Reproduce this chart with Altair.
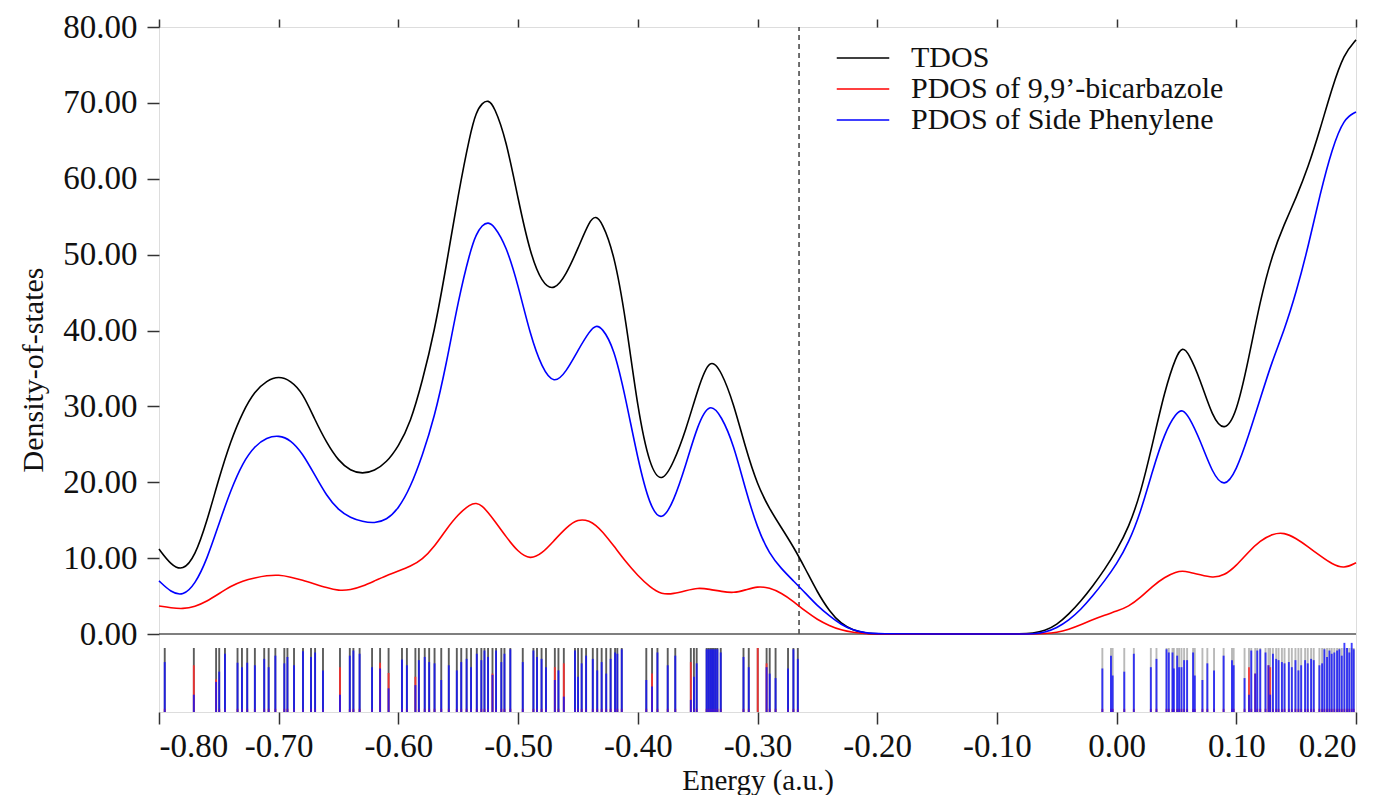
import altair as alt
import pandas as pd

# ---------------- curve data ----------------
energy = [-0.80, -0.79, -0.78, -0.77, -0.76, -0.75, -0.74, -0.73, -0.72, -0.71,
          -0.70, -0.69, -0.68, -0.67, -0.66, -0.65, -0.64, -0.63, -0.62, -0.61,
          -0.60, -0.59, -0.58, -0.57, -0.56, -0.55, -0.54, -0.535, -0.53, -0.525,
          -0.52, -0.51, -0.50, -0.49, -0.48, -0.47, -0.46, -0.45, -0.44, -0.435,
          -0.43, -0.42, -0.41, -0.40, -0.39, -0.38, -0.37, -0.36, -0.35, -0.34,
          -0.33, -0.32, -0.31, -0.30, -0.29, -0.28, -0.27, -0.26, -0.25, -0.24,
          -0.23, -0.22, -0.21, -0.20, -0.15, -0.10, -0.08, -0.07, -0.06, -0.05,
          -0.04, -0.03, -0.02, -0.01, 0.00, 0.01, 0.02, 0.03, 0.04, 0.05,
          0.055, 0.06, 0.07, 0.08, 0.09, 0.10, 0.11, 0.12, 0.13, 0.14,
          0.15, 0.16, 0.17, 0.18, 0.19, 0.20]

tdos = [11.2, 9.1, 8.3, 10.2, 14.8, 20.5, 25.5, 29.3, 32.0, 33.4,
        34.0, 33.4, 31.8, 28.3, 25.2, 22.8, 21.5, 21.1, 21.5, 22.6,
        24.7, 27.8, 33.3, 39.8, 48.5, 58.0, 66.0, 68.8, 70.0, 70.4,
        69.6, 65.2, 57.3, 50.2, 46.2, 45.2, 47.3, 50.8, 54.6, 55.1,
        54.3, 50.3, 41.5, 29.5, 22.0, 19.8, 22.6, 26.8, 32.2, 36.6,
        34.6, 30.4, 24.5, 19.6, 16.5, 14.0, 11.5, 8.6, 5.5, 3.0,
        1.3, 0.5, 0.1, 0.0, 0.0, 0.0, 0.0, 0.1, 0.4, 1.2,
        2.6, 4.3, 6.3, 8.5, 11.0, 14.0, 18.5, 25.0, 32.0, 36.8,
        37.8, 37.1, 33.5, 28.6, 26.6, 29.0, 36.0, 44.0, 50.0, 54.0,
        57.5, 61.5, 66.5, 72.0, 76.5, 78.3]

pdos_bcz = [3.7, 3.45, 3.3, 3.6, 4.3, 5.3, 6.3, 7.0, 7.4, 7.7,
            7.8, 7.5, 7.1, 6.6, 6.1, 5.7, 5.8, 6.3, 7.0, 7.7,
            8.3, 8.9, 9.8, 11.5, 13.8, 15.8, 17.1, 17.3, 16.9, 16.0,
            15.0, 12.8, 10.8, 9.8, 10.6, 12.3, 14.0, 15.2, 14.9, 14.3,
            13.6, 11.6, 9.5, 7.7, 6.2, 5.2, 5.3, 5.7, 6.1, 5.9,
            5.6, 5.4, 5.8, 6.3, 6.1, 5.4, 4.3, 3.0, 1.9, 1.1,
            0.5, 0.2, 0.05, 0.0, 0.0, 0.0, 0.0, 0.0, 0.05, 0.2,
            0.6, 1.2, 1.9, 2.5, 3.0, 3.6, 4.8, 6.3, 7.5, 8.2,
            8.3, 8.2, 7.8, 7.4, 7.7, 9.0, 10.8, 12.3, 13.2, 13.4,
            12.6, 11.5, 10.3, 9.2, 8.6, 9.4]

pdos_ph = [7.0, 5.5, 5.0, 6.5, 9.8, 14.5, 19.0, 22.6, 24.8, 25.9,
           26.2, 25.6, 23.8, 21.0, 18.2, 16.3, 15.3, 14.8, 14.6, 15.0,
           16.5, 19.3, 23.5, 28.5, 35.5, 44.0, 50.5, 52.7, 53.9, 54.3,
           53.8, 51.2, 46.0, 39.5, 35.0, 32.9, 34.5, 37.4, 40.0, 40.7,
           40.4, 37.8, 31.0, 23.0, 16.8, 14.7, 17.5, 22.2, 27.6, 30.6,
           28.7, 25.0, 19.0, 13.9, 10.5, 8.6, 7.0, 5.4, 3.7, 2.4,
           1.2, 0.5, 0.15, 0.0, 0.0, 0.0, 0.0, 0.0, 0.2, 0.8,
           1.8, 3.2, 5.0, 7.0, 9.2, 12.0, 16.0, 21.5, 26.5, 29.2,
           29.6, 28.8, 25.5, 21.2, 19.2, 21.5, 26.0, 31.0, 36.0, 40.0,
           45.0, 51.0, 58.0, 64.0, 68.0, 68.8]

series_names = ["TDOS", "PDOS of 9,9\u2019-bicarbazole", "PDOS of Side Phenylene"]
series_colors = ["#000000", "#ff0000", "#0000ff"]

# ---------------- orbital sticks (composition fractions) ----------------
stick_e = [-0.7952, -0.7709, -0.7523, -0.7497, -0.7449, -0.7344, -0.7307, -0.7263, -0.7199, -0.7121,
           -0.7084, -0.7028, -0.6953, -0.6927, -0.6872, -0.6797, -0.6730, -0.6696, -0.6630, -0.6488,
           -0.6406, -0.6376, -0.6324, -0.6220, -0.6153, -0.6082, -0.5970, -0.5929, -0.5858, -0.5829,
           -0.5780, -0.5743, -0.5698, -0.5642, -0.5579, -0.5512, -0.5475, -0.5430, -0.5393, -0.5345,
           -0.5307, -0.5281, -0.5251, -0.5214, -0.5184, -0.5140, -0.5114, -0.5065, -0.4961, -0.4872,
           -0.4842, -0.4804, -0.4767, -0.4693, -0.4663, -0.4618, -0.4525, -0.4499, -0.4469, -0.4432,
           -0.4376, -0.4339, -0.4302, -0.4264, -0.4227, -0.4190, -0.4171, -0.4134, -0.3929, -0.3881,
           -0.3836, -0.3750, -0.3687, -0.3557, -0.3531, -0.3508, -0.3425, -0.3410, -0.3395, -0.3380,
           -0.3365, -0.3350, -0.3335, -0.3307, -0.3117, -0.3073, -0.2998, -0.2924, -0.2898, -0.2849,
           -0.2745, -0.2700, -0.2663,
           -0.0119, -0.0047, -0.0033, 0.0064, 0.0144, 0.0286, 0.0333, 0.0417, 0.0436, 0.0467,
           0.0478, 0.0506, 0.0522, 0.0542, 0.0564, 0.0589, 0.0639, 0.0653, 0.0717, 0.0758,
           0.0814, 0.0894, 0.0964, 0.0978, 0.1069, 0.1106, 0.1125, 0.1158, 0.1175, 0.1200,
           0.1244, 0.1269, 0.1283, 0.1306, 0.1333, 0.1353, 0.1381, 0.1403, 0.1439, 0.1464,
           0.1494, 0.1519, 0.1542, 0.1575, 0.1597, 0.1625, 0.1647, 0.1694, 0.1717, 0.1736,
           0.1758, 0.1778, 0.1797, 0.1819, 0.1842, 0.1861, 0.1881, 0.1903, 0.1925, 0.1944,
           0.1964, 0.1981]

stick_ph = [0.78, 0.27, 0.47, 0.63, 0.91, 0.77, 0.70, 0.77, 0.73, 0.83,
            0.70, 0.88, 0.76, 0.86, 0.73, 0.95, 0.86, 0.93, 0.65, 0.27,
            0.88, 0.96, 0.91, 0.70, 0.68, 0.37, 0.82, 0.73, 0.42, 0.81,
            0.86, 0.78, 0.76, 0.50, 0.73, 0.65, 0.78, 0.83, 0.70, 0.91,
            0.81, 0.96, 0.86, 0.58, 0.96, 0.78, 0.91, 0.98, 0.78, 0.96,
            0.86, 0.83, 0.70, 0.50, 0.65, 0.24, 0.96, 0.55, 0.76, 0.88,
            0.83, 0.65, 0.78, 0.60, 0.83, 0.93, 0.91, 0.98, 0.50, 0.40,
            0.93, 0.73, 0.88, 0.19, 0.55, 0.76, 0.98, 0.98, 0.98, 0.98,
            0.98, 0.98, 0.98, 0.93, 0.86, 0.70, 0.00, 0.70, 0.60, 0.53,
            0.68, 0.98, 0.83,
            0.68, 0.88, 0.57, 0.63, 0.91, 0.70, 0.83, 0.98, 0.93, 0.93,
            0.68, 0.88, 0.70, 0.70, 0.81, 0.81, 0.93, 0.57, 0.50, 0.76,
            0.65, 0.88, 0.81, 0.73, 0.53, 0.27, 0.96, 0.60, 0.96, 0.98,
            0.93, 0.73, 0.27, 0.91, 0.83, 0.81, 0.78, 0.76, 0.78, 0.70,
            0.81, 0.65, 0.73, 0.81, 0.76, 0.83, 0.81, 0.73, 0.76, 0.98,
            0.86, 0.96, 0.91, 0.93, 0.96, 0.98, 0.88, 1.08, 1.00, 0.93,
            1.08, 0.98]

stick_bcz = [0.05, 0.73, 0.51, 0.05, 0.05, 0.05, 0.05, 0.05, 0.05, 0.05,
             0.05, 0.05, 0.05, 0.05, 0.05, 0.05, 0.05, 0.05, 0.05, 0.70,
             0.05, 0.05, 0.05, 0.05, 0.77, 0.61, 0.05, 0.05, 0.55, 0.05,
             0.05, 0.05, 0.05, 0.05, 0.05, 0.05, 0.05, 0.05, 0.05, 0.05,
             0.05, 0.05, 0.05, 0.60, 0.05, 0.05, 0.05, 0.05, 0.05, 0.05,
             0.05, 0.05, 0.05, 0.70, 0.05, 0.76, 0.05, 0.05, 0.05, 0.05,
             0.05, 0.05, 0.05, 0.05, 0.05, 0.05, 0.05, 0.05, 0.05, 0.60,
             0.05, 0.05, 0.05, 0.78, 0.05, 0.05, 0.05, 0.05, 0.05, 0.05,
             0.05, 0.05, 0.05, 0.05, 0.05, 0.05, 1.00, 0.76, 0.05, 0.05,
             0.05, 0.05, 0.05,
             0.05, 0.05, 0.05, 0.05, 0.05, 0.05, 0.05, 0.05, 0.05, 0.05,
             0.05, 0.05, 0.05, 0.05, 0.05, 0.05, 0.05, 0.05, 0.05, 0.05,
             0.05, 0.05, 0.05, 0.05, 0.05, 0.70, 0.05, 0.60, 0.05, 0.05,
             0.05, 0.73, 0.70, 0.05, 0.05, 0.05, 0.05, 0.05, 0.05, 0.05,
             0.05, 0.05, 0.05, 0.05, 0.05, 0.05, 0.05, 0.05, 0.05, 0.05,
             0.05, 0.05, 0.05, 0.05, 0.05, 0.05, 0.05, 0.05, 0.05, 0.05,
             0.05, 0.05]

homo_energy = -0.2653

x_ticks = [-0.80, -0.70, -0.60, -0.50, -0.40, -0.30, -0.20, -0.10, 0.00, 0.10, 0.20]
y_ticks = [0, 10, 20, 30, 40, 50, 60, 70, 80]

# ---------------- tables ----------------
rows = []
for name, vals in zip(series_names, [tdos, pdos_bcz, pdos_ph]):
    for e, v in zip(energy, vals):
        rows.append({"E": e, "v": v, "series": name})
curve_df = pd.DataFrame(rows)

stick_df = pd.DataFrame({"E": stick_e, "ph": stick_ph, "bcz": stick_bcz})
stick_df["zero"] = 0.0
stick_df["full"] = 1.0
stick_df["occ"] = ["occupied" if e <= homo_energy else "virtual" for e in stick_e]

FONT = "Liberation Serif"
W, H = 1197, 685
LABEL_EXPR = "replace(format(datum.value, '.2f'), '\u2212', '-')"

xscale = alt.Scale(domain=[-0.8, 0.2], nice=False, zero=False)
yscale = alt.Scale(domain=[-10.28, 80], nice=False, zero=False)
sscale = alt.Scale(domain=[0, 10.70], nice=False, zero=False)

ax_bottom = alt.Axis(
    values=x_ticks, labelExpr=LABEL_EXPR, title="Energy (a.u.)", orient="bottom",
    tickSize=12, tickWidth=1.5, tickColor="#333", labelPadding=6,
    labelFont=FONT, labelFontSize=33, labelColor="#111",
    titleFont=FONT, titleFontSize=29, titleFontWeight="normal", titleColor="#111",
    titlePadding=3, domain=False, grid=False)

ax_top = alt.Axis(
    values=x_ticks, orient="top", labels=False, title=None,
    tickSize=8, tickWidth=1.5, tickColor="#333", domain=False, grid=False)

ax_left = alt.Axis(
    values=y_ticks, labelExpr=LABEL_EXPR, title="Density-of-states",
    tickSize=12, tickWidth=1.5, tickColor="#333", labelPadding=10,
    labelFont=FONT, labelFontSize=33, labelColor="#111",
    titleFont=FONT, titleFontSize=30, titleFontWeight="normal", titleColor="#111",
    titlePadding=14, domain=False, grid=False)

curves = alt.Chart(curve_df).mark_line(strokeWidth=1.6, interpolate="basis").encode(
    x=alt.X("E:Q", scale=xscale, axis=ax_bottom),
    y=alt.Y("v:Q", scale=yscale, axis=ax_left),
    color=alt.Color("series:N",
                    scale=alt.Scale(domain=series_names, range=series_colors),
                    legend=alt.Legend(orient="none", legendX=688, legendY=15, title=None,
                                      symbolType="M-1.75,0H1.75", symbolSize=900,
                                      symbolStrokeWidth=1.6,
                                      labelFont=FONT, labelFontSize=30, labelColor="#111",
                                      labelOffset=32, rowPadding=0, labelLimit=600)),
    order=alt.Order("E:Q"),
)

zero_df = pd.DataFrame({"E0": [-0.8], "E1": [0.2], "v": [0.0]})
zero_line = alt.Chart(zero_df).mark_rule(color="#555", strokeWidth=1.5).encode(
    x=alt.X("E0:Q", scale=xscale, axis=ax_bottom), x2="E1:Q",
    y=alt.Y("v:Q", scale=yscale, axis=ax_left))

homo_df = pd.DataFrame({"E": [homo_energy], "v0": [0.0], "v1": [80.0]})
homo_line = alt.Chart(homo_df).mark_rule(color="#333", strokeWidth=1.4, strokeDash=[5, 4]).encode(
    x=alt.X("E:Q", scale=xscale, axis=ax_bottom),
    y=alt.Y("v0:Q", scale=yscale, axis=ax_left), y2="v1:Q")

main = alt.layer(homo_line, zero_line, curves)

stick_black = alt.Chart(stick_df).mark_rule(strokeWidth=1.9).encode(
    x=alt.X("E:Q", scale=xscale, axis=ax_top),
    y=alt.Y("zero:Q", scale=sscale, axis=None), y2="full:Q",
    color=alt.Color("occ:N", scale=alt.Scale(domain=["occupied", "virtual"], range=["#333333", "#a8a8a8"]), legend=None),
    opacity=alt.Opacity("occ:N", scale=alt.Scale(domain=["occupied", "virtual"], range=[0.8, 0.8]), legend=None),
)
stick_red = alt.Chart(stick_df).mark_rule(strokeWidth=1.9, color="#ff2a2a", opacity=0.85).encode(
    x=alt.X("E:Q", scale=xscale, axis=ax_top),
    y=alt.Y("zero:Q", scale=sscale, axis=None), y2="bcz:Q")
stick_blue = alt.Chart(stick_df).mark_rule(strokeWidth=1.9, color="#1010ff", opacity=0.8).encode(
    x=alt.X("E:Q", scale=xscale, axis=ax_top),
    y=alt.Y("zero:Q", scale=sscale, axis=None), y2="ph:Q")

sticks = alt.layer(stick_black, stick_red, stick_blue)

chart = alt.layer(sticks, main).resolve_scale(
    y="independent", color="independent", opacity="independent"
).resolve_axis(x="independent").properties(
    width=W, height=H,
    padding={"left": 10, "top": 3, "right": 0, "bottom": 0},
).configure_view(stroke="#444", strokeWidth=1.5).configure(background="white")

chart.save("out.html", embed_options={"renderer": "svg", "actions": False})
